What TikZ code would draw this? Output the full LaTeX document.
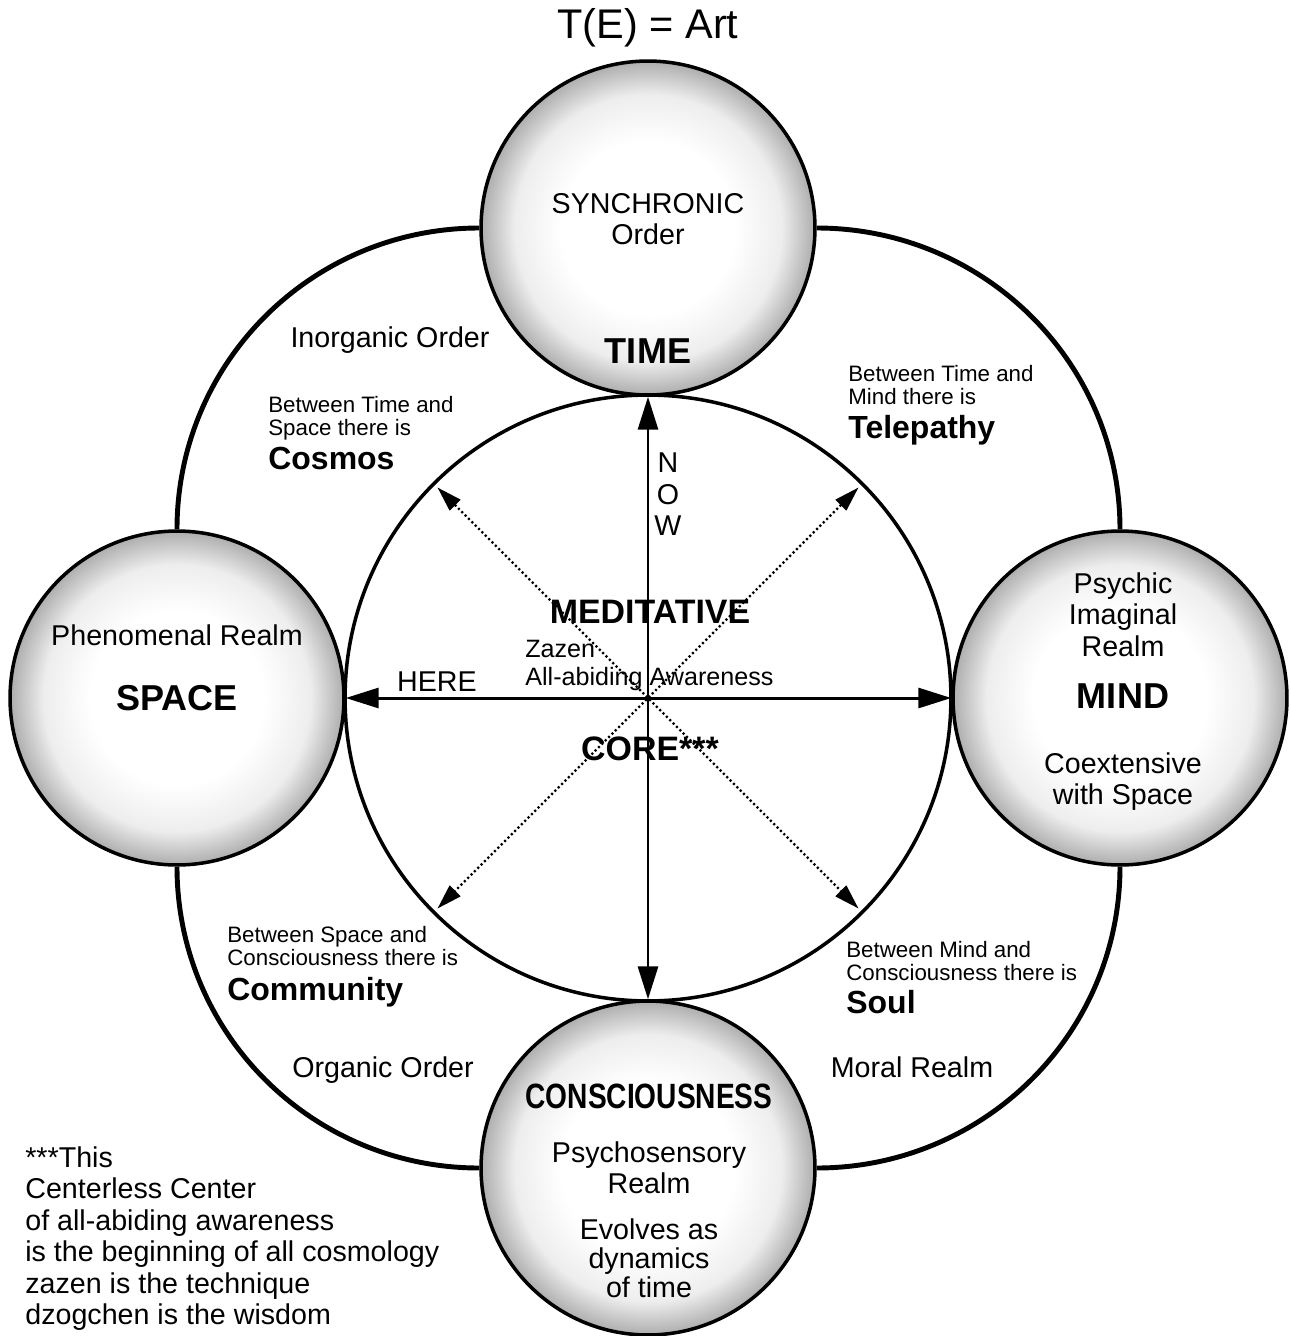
\documentclass[tikz,border=0pt]{standalone}
\usepackage{fontspec}
\usepackage{graphicx}
\setmainfont{Liberation Sans}
\usetikzlibrary{arrows.meta}

\pgfdeclareradialshading{orbshade}{\pgfpoint{0bp}{0bp}}{color(0bp)=(white); color(13bp)=(white); color(20bp)=(black!7); color(25bp)=(black!32); color(50bp)=(black!32)}

\begin{document}
\begin{tikzpicture}[x=0.02cm, y=-0.02cm,
	ring/.style={line width=2.8pt},
	orb/.style={circle, draw, line width=2pt, minimum size=6.68cm, inner sep=0pt, shade, shading=orbshade},
	core/.style={circle, draw, line width=2pt, minimum size=12.12cm, inner sep=0pt},
	axis/.style={line width=1.7pt, {Triangle[length=0.66cm,width=0.4cm]}-{Triangle[length=0.66cm,width=0.4cm]}},
	diag/.style={line width=1.3pt, dash pattern=on 1.2pt off 1.5pt, shorten <=0.14cm, shorten >=0.14cm,
		{Triangle[length=0.5cm,width=0.3cm]}-{Triangle[length=0.5cm,width=0.3cm]}},
	txt/.style={font=\fontsize{16.3}{17.9}\selectfont, inner sep=0pt, align=center},
	small/.style={font=\fontsize{12.7}{13}\selectfont, inner sep=0pt, align=left, anchor=west},
	big/.style={font=\bfseries\fontsize{18.2}{20}\selectfont, inner sep=0pt, anchor=base west},
	realm/.style={font=\bfseries\fontsize{20.5}{22}\selectfont, inner sep=0pt, anchor=base},
	mid/.style={font=\bfseries\fontsize{19.3}{21}\selectfont, inner sep=0pt, anchor=base}
	]

	\useasboundingbox (0,0) rectangle (1291,1336);

	% T(E)
	\node[font=\fontsize{23.6}{26}\selectfont, inner sep=0pt, anchor=base] (title) at (648,38) {T(E) = Art};

	% core
	\coordinate (c) at (648,698);
	\node[core] (core) at (c) {};

	% realms
	\node[orb] (time) at (648,228) {};
	\node[orb] (space) at (177,698) {};
	\node[orb] (mind) at (1120,698) {};
	\node[orb] (consc) at (648,1168) {};

	% ring
	\draw[ring] (space.north) .. controls +(0,-167) and +(-167,0) .. (time.west);
	\draw[ring] (time.east) .. controls +(167,0) and +(0,-167) .. (mind.north);
	\draw[ring] (mind.south) .. controls +(0,167) and +(167,0) .. (consc.east);
	\draw[ring] (consc.west) .. controls +(-167,0) and +(0,167) .. (space.south);

	% now / here
	\draw[axis] (time) -- (consc);
	\draw[axis] (space) -- (mind);

	% diagonals
	\draw[diag] (core.135) -- (core.-45);
	\draw[diag] (core.45) -- (core.-135);

	% time
	\node[txt] (synchronic) at (648,219) {SYNCHRONIC\\Order};
	\node[realm] (timelabel) at (648,363) {TIME};

	% space
	\node[txt, anchor=base] (phenomenal) at (177,645) {Phenomenal Realm};
	\node[realm] (spacelabel) at (177,710) {SPACE};

	% mind
	\node[txt] (psychic) at (1123,614.5) {Psychic\\Imaginal\\Realm};
	\node[realm] (mindlabel) at (1123,708) {MIND};
	\node[txt] (coextensive) at (1123,781.5) {Coextensive\\with Space};

	% consciousness
	\node[font=\bfseries\fontsize{20}{22}\selectfont, inner sep=0pt, anchor=base] (consclabel) at (649,1108) {\scalebox{0.8}[1]{CONSCIOUSNESS}};
	\node[txt] (psychosensory) at (649,1167.5) {Psychosensory\\Realm};
	\node[txt, font=\fontsize{16.3}{16.5}\selectfont] (evolves) at (649,1258.5) {Evolves as\\dynamics\\of time};

	% core labels
	\node[txt] (now) at (668,494.5) {N\\O\\W};
	\node[txt, anchor=base] (here) at (437,691) {HERE};
	\node[mid] (meditative) at (650,623) {MEDITATIVE};
	\node[txt, font=\fontsize{14.3}{15.9}\selectfont, align=left, anchor=west] (zazen) at (525,665) {Zazen\\All-abiding Awareness};
	\node[mid] (corelabel) at (650,760) {CORE***};

	% between
	\node[small] (timespace) at (268,418.6) {Between Time and\\Space there is};
	\node[big] (cosmos) at (268,469) {Cosmos};
	\node[small] (timemind) at (848,384.8) {Between Time and\\Mind there is};
	\node[big] (telepathy) at (848,438) {Telepathy};
	\node[small] (spaceconsc) at (227,945.8) {Between Space and\\Consciousness there is};
	\node[big] (community) at (227,1000) {Community};
	\node[small] (mindconsc) at (846,960.8) {Between Mind and\\Consciousness there is};
	\node[big] (soul) at (846,1013) {Soul};

	% orders
	\node[txt, anchor=base] (inorganic) at (390,347) {Inorganic Order};
	\node[txt, anchor=base] (organic) at (383,1077) {Organic Order};
	\node[txt, anchor=base] (moral) at (912,1077) {Moral Realm};

	% note
	\node[txt, align=left, anchor=west] (note) at (25,1238.5) {***This\\Centerless Center\\of all-abiding awareness\\is the beginning of all cosmology\\zazen is the technique\\dzogchen is the wisdom};

\end{tikzpicture}
\end{document}
